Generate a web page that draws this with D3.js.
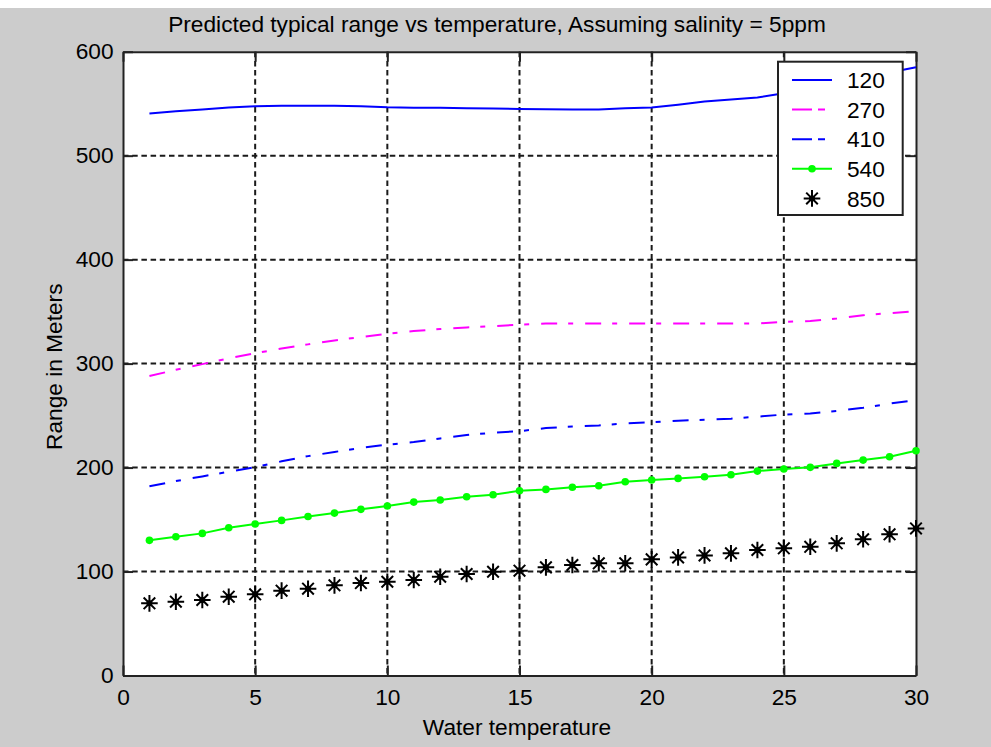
<!DOCTYPE html>
<html>
<head>
<meta charset="utf-8">
<script src="https://cdn.jsdelivr.net/npm/d3@7"></script>
<style>
  html, body { margin: 0; padding: 0; background: #cccccc; }
  svg { display: block; }
  text { font-family: "Liberation Sans", Arial, sans-serif; fill: #000; }
</style>
</head>
<body>
<svg id="chart" width="991" height="747"></svg>
<script>
// ---------- data ----------
const temps = [1,2,3,4,5,6,7,8,9,10,11,12,13,14,15,16,17,18,19,20,21,22,23,24,25,26,27,28,29,30];
const seriesNames = ["120", "270", "410", "540", "850"];
const s120 = [540.6, 542.8, 544.4, 546.3, 547.6, 547.9, 547.9, 547.9, 547.6, 546.5, 546.2, 546.0, 545.7, 545.3, 545.0, 544.7, 544.5, 544.4, 545.5, 546.3, 549.0, 552.0, 554.0, 556.0, 560.0, 564.5, 569.0, 574.0, 580.0, 585.0];
const s270 = [288.0, 294.0, 299.5, 305.0, 310.0, 314.5, 318.5, 322.3, 325.5, 328.7, 331.3, 333.3, 334.8, 336.0, 337.5, 338.6, 338.6, 338.6, 338.6, 338.6, 338.6, 338.6, 338.6, 338.6, 340.2, 341.0, 343.4, 346.5, 348.5, 350.5];
const s410 = [182.0, 187.0, 191.5, 196.0, 200.5, 206.0, 211.0, 215.0, 219.0, 222.0, 224.5, 228.0, 231.3, 233.5, 235.0, 238.0, 239.5, 240.5, 242.5, 243.5, 245.0, 246.0, 247.0, 249.0, 251.0, 252.0, 254.5, 257.5, 261.5, 265.0];
const s540 = [130.0, 133.5, 136.7, 142.1, 145.7, 149.2, 153.0, 156.2, 159.8, 163.0, 166.8, 168.8, 171.9, 173.8, 177.7, 179.0, 181.0, 182.5, 186.4, 188.0, 189.6, 191.2, 193.1, 196.6, 198.6, 200.2, 204.0, 207.2, 210.4, 216.2];
const s850 = [69.4, 71.0, 72.6, 75.8, 78.1, 81.6, 83.5, 86.7, 88.9, 90.2, 91.8, 95.0, 97.6, 99.8, 100.8, 104.0, 106.3, 107.9, 107.9, 111.7, 113.6, 115.5, 117.5, 120.7, 122.3, 123.8, 127.1, 131.0, 135.8, 141.5];
const xTicks = [0, 5, 10, 15, 20, 25, 30];
const yTicks = [0, 100, 200, 300, 400, 500, 600];
const titleText = "Predicted typical range vs temperature, Assuming salinity = 5ppm";
const xLabel = "Water temperature";
const yLabel = "Range in Meters";

// ---------- layout ----------
const FS = 22.7;
const svg = d3.select("#chart");
const P = { left: 123, right: 916, top: 51.7, bottom: 675.5 };
const x = d3.scaleLinear().domain([0, 30]).range([P.left, P.right]);
const y = d3.scaleLinear().domain([0, 600]).range([P.bottom, P.top]);

svg.append("rect").attr("x", 0).attr("y", 0).attr("width", 991).attr("height", 747).attr("fill", "#cccccc");
svg.append("rect").attr("x", 0).attr("y", 0).attr("width", 991).attr("height", 8).attr("fill", "#ffffff");
svg.append("rect").attr("x", P.left).attr("y", P.top).attr("width", P.right - P.left).attr("height", P.bottom - P.top).attr("fill", "#ffffff");

// grid
const grid = svg.append("g").attr("stroke", "#1a1a1a").attr("stroke-width", 2).attr("stroke-dasharray", "5.5,3.7");
grid.selectAll("line.gx").data(xTicks.slice(1, -1)).join("line")
  .attr("x1", d => x(d)).attr("x2", d => x(d)).attr("y1", P.top).attr("y2", P.bottom);
grid.selectAll("line.gy").data(yTicks.slice(1, -1)).join("line")
  .attr("y1", d => y(d)).attr("y2", d => y(d)).attr("x1", P.left).attr("x2", P.right);

// axes
function styleAxis(g) {
  g.selectAll("path.domain").attr("stroke", "#222").attr("stroke-width", 2);
  g.selectAll(".tick line").attr("stroke", "#222").attr("stroke-width", 2);
  g.selectAll("text").attr("font-size", FS + "px").attr("fill", "#000")
    .attr("font-family", "'Liberation Sans', Arial, sans-serif");
}
svg.append("g").attr("transform", `translate(0,${P.bottom})`)
  .call(d3.axisBottom(x).tickValues(xTicks).tickSizeInner(-10).tickSizeOuter(0).tickPadding(13).tickFormat(d3.format("d")))
  .call(styleAxis);
svg.append("g").attr("transform", `translate(0,${P.top})`)
  .call(d3.axisTop(x).tickValues(xTicks).tickSizeInner(-10).tickSizeOuter(0).tickFormat(""))
  .call(styleAxis);
svg.append("g").attr("transform", `translate(${P.left},0)`)
  .call(d3.axisLeft(y).tickValues(yTicks).tickSizeInner(-10).tickSizeOuter(0).tickPadding(9.5).tickFormat(d3.format("d")))
  .call(styleAxis);
svg.append("g").attr("transform", `translate(${P.right},0)`)
  .call(d3.axisRight(y).tickValues(yTicks).tickSizeInner(-10).tickSizeOuter(0).tickFormat(""))
  .call(styleAxis);

// series lines
const line = d3.line().x((d, i) => x(temps[i])).y(d => y(d));
const plot = svg.append("g");
plot.append("path").datum(s120).attr("d", line).attr("fill", "none").attr("stroke", "#0000ff").attr("stroke-width", 2);
plot.append("path").datum(s270).attr("d", line).attr("fill", "none").attr("stroke", "#ff00ff").attr("stroke-width", 2).attr("stroke-dasharray", "16,11,5,12");
plot.append("path").datum(s410).attr("d", line).attr("fill", "none").attr("stroke", "#0000ff").attr("stroke-width", 2).attr("stroke-dasharray", "16,11,5,12");
plot.append("path").datum(s540).attr("d", line).attr("fill", "none").attr("stroke", "#00ff00").attr("stroke-width", 2);
plot.selectAll("circle.m540").data(s540).join("circle")
  .attr("cx", (d, i) => x(temps[i])).attr("cy", d => y(d)).attr("r", 3.8).attr("fill", "#00ff00");

function starPath(cx, cy) {
  const a = 8.3, b = 5.8;
  return `M${cx - a},${cy}L${cx + a},${cy}M${cx},${cy - a}L${cx},${cy + a}` +
         `M${cx - b},${cy - b}L${cx + b},${cy + b}M${cx - b},${cy + b}L${cx + b},${cy - b}`;
}
const stars = plot.append("g");
stars.selectAll("path").data(s850).join("path")
  .attr("d", (d, i) => starPath(x(temps[i]), y(d))).attr("stroke", "#000").attr("stroke-width", 2).attr("fill", "none");
stars.selectAll("circle").data(s850).join("circle")
  .attr("cx", (d, i) => x(temps[i])).attr("cy", d => y(d)).attr("r", 3).attr("fill", "#000");

// legend
const L = { x: 778, y: 61.7, w: 124.7, h: 153.3, row0: 80, dy: 29.6 };
const leg = svg.append("g");
leg.append("rect").attr("x", L.x).attr("y", L.y).attr("width", L.w).attr("height", L.h)
  .attr("fill", "#fff").attr("stroke", "#222").attr("stroke-width", 2);
const legStyles = [
  { color: "#0000ff", dash: null, type: "line" },
  { color: "#ff00ff", dash: "20,6,7,20", type: "line" },
  { color: "#0000ff", dash: "20,6,7,20", type: "line" },
  { color: "#00ff00", dash: null, type: "dot" },
  { color: "#000", dash: null, type: "star" }
];
seriesNames.forEach((name, i) => {
  const ry = L.row0 + i * L.dy;
  const st = legStyles[i];
  if (st.type === "line" || st.type === "dot") {
    const ln = leg.append("line").attr("x1", 792).attr("x2", 832).attr("y1", ry).attr("y2", ry)
      .attr("stroke", st.color).attr("stroke-width", 2);
    if (st.dash) ln.attr("stroke-dasharray", st.dash);
  }
  if (st.type === "dot") {
    leg.append("circle").attr("cx", 812).attr("cy", ry).attr("r", 3.8).attr("fill", st.color);
  }
  if (st.type === "star") {
    leg.append("path").attr("d", starPath(812, ry)).attr("stroke", "#000").attr("stroke-width", 2).attr("fill", "none");
    leg.append("circle").attr("cx", 812).attr("cy", ry).attr("r", 3).attr("fill", "#000");
  }
  leg.append("text").attr("x", 847).attr("y", ry).attr("dy", "0.36em").attr("font-size", FS + "px").text(name);
});

// titles
svg.append("text").attr("x", 497).attr("y", 31.5).attr("text-anchor", "middle").attr("font-size", FS + "px").text(titleText);
svg.append("text").attr("x", 517).attr("y", 735).attr("text-anchor", "middle").attr("font-size", FS + "px").text(xLabel);
svg.append("text").attr("transform", `translate(61.7,366.7) rotate(-90)`).attr("text-anchor", "middle").attr("font-size", FS + "px").text(yLabel);
</script>
</body>
</html>
